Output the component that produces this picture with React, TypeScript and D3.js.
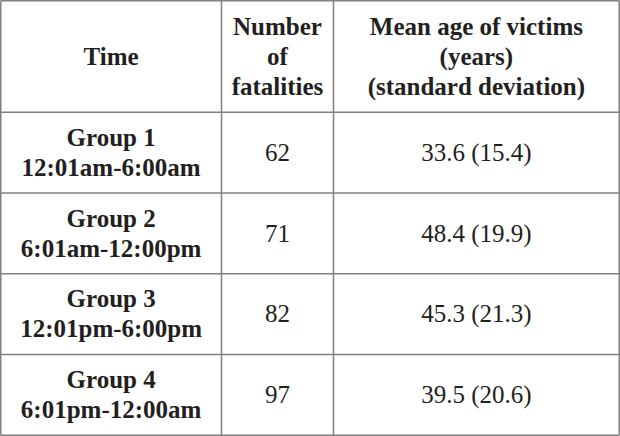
import React from "react";
import * as d3 from "d3";

const headers: string[][] = [
  ["Time"],
  ["Number", "of", "fatalities"],
  ["Mean age of victims", "(years)", "(standard deviation)"],
];
const groups = ["Group 1", "Group 2", "Group 3", "Group 4"];
const timeRanges = ["12:01am-6:00am", "6:01am-12:00pm", "12:01pm-6:00pm", "6:01pm-12:00am"];
const fatalities = [62, 71, 82, 97];
const meanAge = [33.6, 48.4, 45.3, 39.5];
const sdAge = [15.4, 19.9, 21.3, 20.6];

const W = 620;
const H = 436;
const colEdges = [0.75, 221.5, 333.5, 619.25];
const headerBottom = 112.3;
const bottom = 435.25;
const FONT = "'Liberation Serif', 'Times New Roman', serif";
const TEXT = "#231f20";
const LINE = "#808080";
const FS = 25;
const LH = 30;

export default function App() {
  const rowScale = d3
    .scaleBand<number>()
    .domain(d3.range(groups.length))
    .range([headerBottom, bottom]);
  const colCenter = (i: number) => (colEdges[i] + colEdges[i + 1]) / 2;

  const lines = (texts: string[], cx: number, cy: number, bold: boolean, key: string) => {
    const n = texts.length;
    return texts.map((t, k) => (
      <text
        key={key + k}
        x={cx}
        y={cy + (k - (n - 1) / 2) * LH + FS * 0.33}
        textAnchor="middle"
        fontFamily={FONT}
        fontSize={FS}
        fontWeight={bold ? "bold" : "normal"}
        fill={TEXT}
      >
        {t}
      </text>
    ));
  };

  const hLines = [colEdges[0], headerBottom, ...groups.map((_, i) => rowScale(i)! + rowScale.bandwidth())];
  const topY = 0.75;

  return (
    <div style={{ position: "absolute", left: 0, top: 0, width: W, height: H, background: "#fff" }}>
      <svg width={W} height={H} viewBox={`0 0 ${W} ${H}`} style={{ display: "block" }}>
        <rect x={0} y={0} width={W} height={H} fill="#fff" />
        {/* horizontal lines */}
        {[topY, ...hLines.slice(1)].map((y, i) => (
          <line key={"h" + i} x1={colEdges[0]} x2={colEdges[3]} y1={y} y2={y} stroke={LINE} strokeWidth={1.5} />
        ))}
        {/* vertical lines */}
        {colEdges.map((x, i) => (
          <line key={"v" + i} x1={x} x2={x} y1={topY} y2={bottom} stroke={LINE} strokeWidth={1.5} />
        ))}
        {/* header */}
        {headers.map((h, i) => lines(h, colCenter(i), (topY + headerBottom) / 2, true, "hd" + i))}
        {/* rows */}
        {groups.map((g, i) => {
          const cy = rowScale(i)! + rowScale.bandwidth() / 2;
          return (
            <g key={"r" + i}>
              {lines([g, timeRanges[i]], colCenter(0), cy, true, "t" + i)}
              {lines([String(fatalities[i])], colCenter(1), cy, false, "f" + i)}
              {lines([`${meanAge[i].toFixed(1)} (${sdAge[i].toFixed(1)})`], colCenter(2), cy, false, "m" + i)}
            </g>
          );
        })}
      </svg>
    </div>
  );
}
